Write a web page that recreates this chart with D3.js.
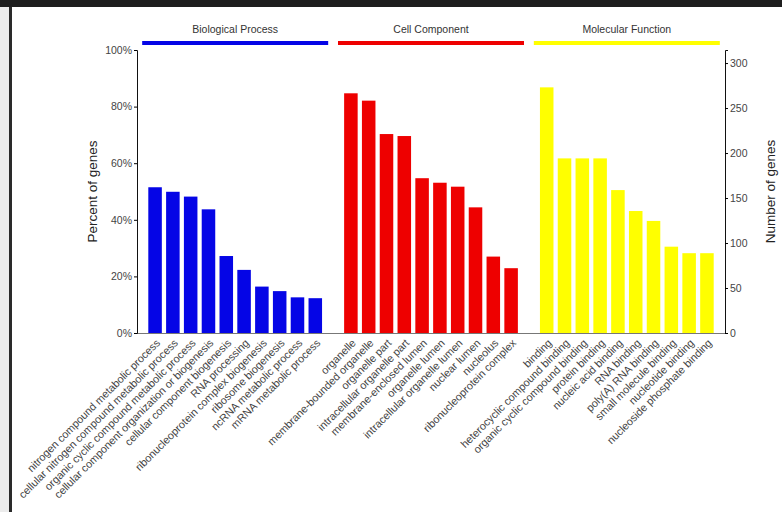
<html>

<head>
    <script src="https://cdn.jsdelivr.net/npm/d3@7"></script>
    <style>
        body { margin: 0; background: #fff; }
        text { font-family: "Liberation Sans", Arial, sans-serif; }
    </style>
</head>

<body>
    <div id="container"></div>
    <script>
        // GO categories and terms
        const groups = ["Biological Process", "Cell Component", "Molecular Function"];
        const groupColors = ["#0505e6", "#ee0000", "#ffff00"];

        const bpTerms = ["nitrogen compound metabolic process", "cellular nitrogen compound metabolic process",
            "organic cyclic compound metabolic process", "cellular component organization or biogenesis",
            "cellular component biogenesis", "RNA processing", "ribonucleoprotein complex biogenesis",
            "ribosome biogenesis", "ncRNA metabolic process", "mRNA metabolic process"];
        const ccTerms = ["organelle", "membrane-bounded organelle", "organelle part", "intracellular organelle part",
            "membrane-enclosed lumen", "organelle lumen", "intracellular organelle lumen", "nuclear lumen",
            "nucleolus", "ribonucleoprotein complex"];
        const mfTerms = ["binding", "heterocyclic compound binding", "organic cyclic compound binding",
            "protein binding", "nucleic acid binding", "RNA binding", "poly(A) RNA binding",
            "small molecule binding", "nucleotide binding", "nucleoside phosphate binding"];

        // percent of genes
        const bpValues = [51.5, 49.9, 48.2, 43.7, 27.2, 22.3, 16.4, 14.8, 12.6, 12.3];
        const ccValues = [84.7, 82.1, 70.3, 69.6, 54.7, 53.1, 51.7, 44.4, 27.0, 22.9];
        const mfValues = [86.8, 61.7, 61.7, 61.7, 50.5, 43.1, 39.6, 30.5, 28.2, 28.2];

        // total genes corresponding to 100%
        const totalGenes = 314.5;
        const percentTicks = [0, 0.2, 0.4, 0.6, 0.8, 1];
        const countTicks = [0, 50, 100, 150, 200, 250, 300];

        const termLists = [bpTerms, ccTerms, mfTerms];
        const valueLists = [bpValues, ccValues, mfValues];

        const data = [];
        const slots = [];
        termLists.forEach((terms, g) => {
            terms.forEach((t, i) => {
                data.push({ term: t, value: valueLists[g][i] / 100, group: g });
                slots.push(t);
            });
            if (g < termLists.length - 1) slots.push("gap" + g);
        });

        const width = 782, height = 512;
        const plotLeft = 137, plotRight = 725, plotTop = 50, plotBottom = 333;

        const svg = d3.select("#container").append("svg")
            .attr("width", width)
            .attr("height", height);

        // screenshot frame
        svg.append("rect").attr("x", 0).attr("y", 0).attr("width", width).attr("height", 7).attr("fill", "#1e1e1e");
        svg.append("rect").attr("x", 0).attr("y", 7).attr("width", 9).attr("height", height).attr("fill", "#ececec");
        svg.append("rect").attr("x", 9).attr("y", 7).attr("width", 3).attr("height", height).attr("fill", "#2a2a2a");

        const x = d3.scaleBand()
            .domain(slots)
            .range([plotLeft, plotRight])
            .paddingInner(0.24)
            .paddingOuter(0.635);

        const y = d3.scaleLinear().domain([0, 1]).range([plotBottom, plotTop]);
        const yCount = d3.scaleLinear().domain([0, totalGenes]).range([plotBottom, plotTop]);

        // bars
        svg.append("g")
            .selectAll("rect")
            .data(data)
            .join("rect")
            .attr("x", d => x(d.term))
            .attr("y", d => y(d.value))
            .attr("width", x.bandwidth())
            .attr("height", d => y(0) - y(d.value))
            .attr("fill", d => groupColors[d.group]);

        // group headers
        const header = svg.append("g");
        termLists.forEach((terms, g) => {
            const x0 = x(terms[0]);
            const x1 = x(terms[terms.length - 1]) + x.bandwidth();
            const cx = (x0 + x1) / 2;
            header.append("rect")
                .attr("x", cx - 93)
                .attr("y", 41)
                .attr("width", 186)
                .attr("height", 4)
                .attr("fill", groupColors[g]);
            header.append("text")
                .attr("x", cx)
                .attr("y", 33)
                .attr("text-anchor", "middle")
                .attr("font-size", 10.5)
                .attr("fill", "#333")
                .text(groups[g]);
        });

        // x axis line
        svg.append("line")
            .attr("x1", plotLeft).attr("x2", plotRight)
            .attr("y1", plotBottom + 0.5).attr("y2", plotBottom + 0.5)
            .attr("stroke", "#777");

        // term labels
        svg.append("g")
            .selectAll("text")
            .data(data)
            .join("text")
            .attr("transform", d => `translate(${x(d.term) + x.bandwidth() / 2 + 3},${plotBottom + 8}) rotate(-45)`)
            .attr("text-anchor", "end")
            .attr("dy", "0.35em")
            .attr("font-size", 10.8)
            .attr("fill", "#444")
            .text(d => d.term);

        // left axis
        const yAxis = svg.append("g")
            .attr("transform", `translate(${plotLeft},0)`)
            .call(d3.axisLeft(y).tickValues(percentTicks).tickFormat(d3.format(".0%")).tickSize(3).tickPadding(2));
        yAxis.selectAll("text").attr("font-size", 10.5).attr("fill", "#444");

        // right axis
        const yAxisR = svg.append("g")
            .attr("transform", `translate(${plotRight},0)`)
            .call(d3.axisRight(yCount).tickValues(countTicks).tickSize(3).tickPadding(2));
        yAxisR.selectAll("text").attr("font-size", 10.5).attr("fill", "#444");

        svg.selectAll(".domain").attr("stroke", "#111");

        // axis titles
        svg.append("text")
            .attr("transform", `translate(92,${(plotTop + plotBottom) / 2}) rotate(-90)`)
            .attr("text-anchor", "middle")
            .attr("dy", "0.35em")
            .attr("font-size", 13.5)
            .attr("fill", "#222")
            .text("Percent of genes");

        svg.append("text")
            .attr("transform", `translate(770,${(plotTop + plotBottom) / 2}) rotate(-90)`)
            .attr("text-anchor", "middle")
            .attr("dy", "0.35em")
            .attr("font-size", 13.5)
            .attr("fill", "#222")
            .text("Number of genes");
    </script>
</body>

</html>
